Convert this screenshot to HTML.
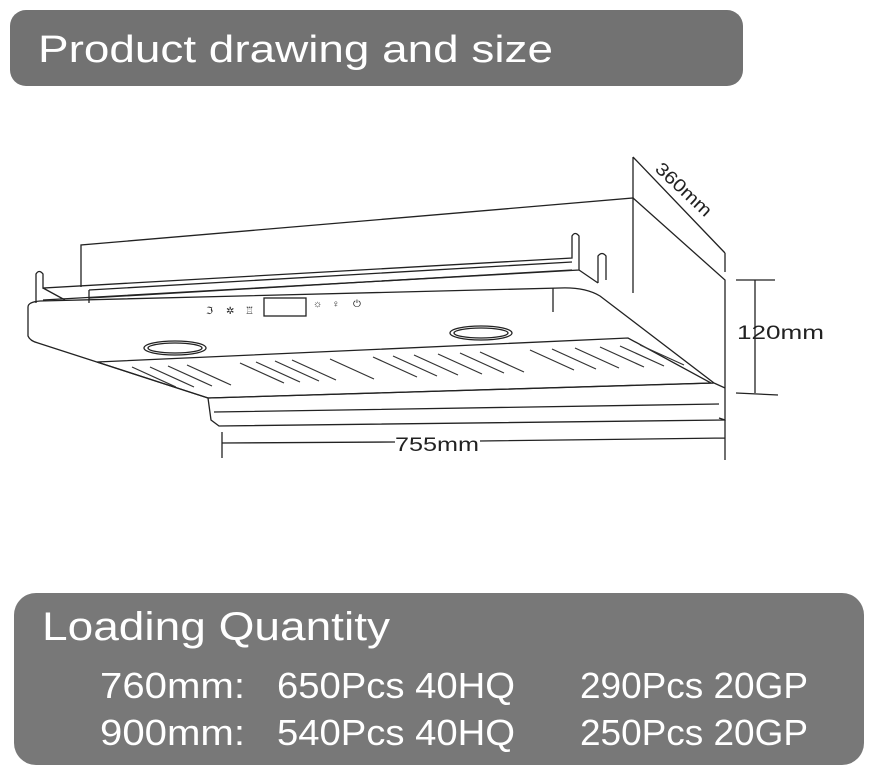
<!DOCTYPE html>
<html><head><meta charset="utf-8"><style>
html,body{margin:0;padding:0;background:#fff;}
svg{display:block;}
</style></head><body>
<svg width="869" height="775" viewBox="0 0 869 775" xmlns="http://www.w3.org/2000/svg" font-family="Liberation Sans, sans-serif">
<rect x="10" y="10" width="733" height="76" rx="16" fill="#727272"/>
<text x="38" y="62" font-size="38" fill="#fff" textLength="515" lengthAdjust="spacingAndGlyphs">Product  drawing and size</text>

<g fill="none" stroke="#222" stroke-width="1.3">
<path d="M81,287 L81,245 L633,198 L633,293"/>
<path d="M633,157 L725,253 M633,157 L633,198 M725,253 L725,272"/>
<path d="M633,198 L725,280 L725,388 L714,383 M725,388 L725,420 L719,418"/>
<path d="M755,280 L755,393 M736,280 L775,280 M736,393 L778,395"/>
<path d="M222,443 L395,442 M480,441 L725,438 M222,432 L222,458 M725,420 L725,460"/>
<path d="M36,303 L36,274 Q39,269 43,274 L43,288 L572,258 L572,236 Q575,231 579,236 L579,270 L43,300"/>
<path d="M89,290 L572,262 M89,298 L572,270 M89,290 L89,303 M43,288 L65,300 M598,283 L598,256 Q602,251 606,256 L606,280 M579,270 L598,283"/>
<path d="M28,307 Q28,302 40,301 L560,288 Q585,287 600,296 L714,383"/>
<path d="M28,307 L28,336 Q30,341 38,343 L208,398 L714,383"/>
<path d="M553,288 L553,312"/>
<path d="M208,398 L211,420 L219,426 L725,420 M214,412 L719,404"/>
<path d="M97,362 L628,338 L711,383 L208,398 Z"/>
<ellipse cx="175" cy="348" rx="31" ry="7"/>
<ellipse cx="175" cy="348" rx="27" ry="5"/>
<ellipse cx="481" cy="333" rx="31" ry="7"/>
<ellipse cx="481" cy="333" rx="27" ry="5"/>
<rect x="264" y="298" width="42" height="18"/>
</g>
<g stroke="#333" stroke-width="1.2" fill="none">
<path d="M132,367 L176,387 M150,367 L194,387 M168,366 L212,386 M187,365 L231,385 M240,363 L284,383 M256,362 L300,382 M275,361 L319,381 M292,360 L336,380 M330,359 L374,379 M373,357 L417,377 M393,356 L437,376 M414,355 L458,375 M438,354 L482,374 M460,353 L504,373 M480,352 L524,372 M530,350 L574,370 M552,349 L596,369 M575,348 L619,368 M600,347 L644,367 M620,346 L664,366 M640,345 L684,365"/>
</g>
<g font-size="10" fill="#222">
<text x="206" y="314">ℑ</text><text x="226" y="314">✲</text><text x="245" y="314">♖</text>
<text x="313" y="307">☼</text><text x="332" y="307">♀</text><text x="353" y="307">⏻</text>
</g>
<text x="654" y="170" font-size="18" fill="#222" transform="rotate(43 654 170)" textLength="70" lengthAdjust="spacingAndGlyphs">360mm</text>
<text x="737" y="339" font-size="19" fill="#222" textLength="87" lengthAdjust="spacingAndGlyphs">120mm</text>
<text x="395" y="451" font-size="19" fill="#222" textLength="84" lengthAdjust="spacingAndGlyphs">755mm</text>

<rect x="14" y="593" width="850" height="172" rx="22" fill="#787878"/>
<g fill="#fff" font-size="36">
<text x="42" y="640" font-size="40" textLength="348" lengthAdjust="spacingAndGlyphs">Loading Quantity</text>
<text x="100" y="698" textLength="145" lengthAdjust="spacingAndGlyphs">760mm:</text>
<text x="277" y="698" textLength="238" lengthAdjust="spacingAndGlyphs">650Pcs 40HQ</text>
<text x="580" y="698" textLength="228" lengthAdjust="spacingAndGlyphs">290Pcs 20GP</text>
<text x="100" y="745" textLength="145" lengthAdjust="spacingAndGlyphs">900mm:</text>
<text x="277" y="745" textLength="238" lengthAdjust="spacingAndGlyphs">540Pcs 40HQ</text>
<text x="580" y="745" textLength="228" lengthAdjust="spacingAndGlyphs">250Pcs 20GP</text>
</g>
</svg>
</body></html>
